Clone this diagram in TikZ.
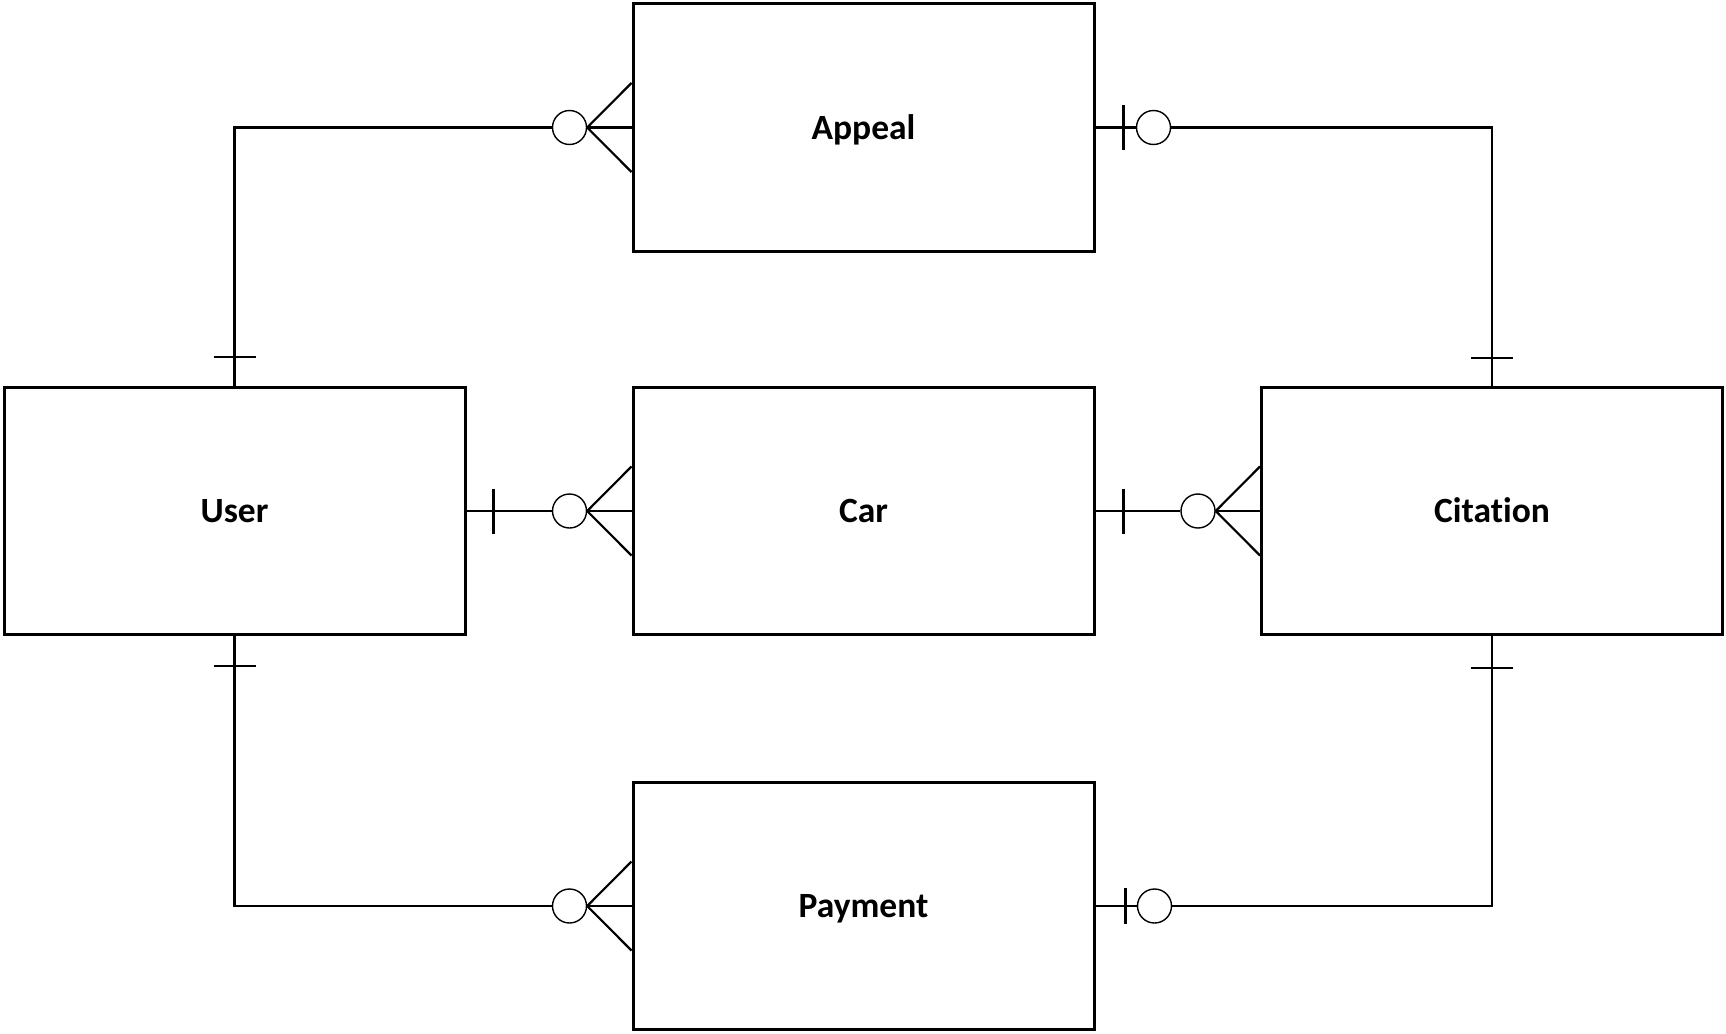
\documentclass[tikz,border=0pt]{standalone}
\usepackage{fontspec}
\setmainfont{Carlito}[Ligatures=NoCommon]
\usetikzlibrary{calc}

\begin{document}
\begin{tikzpicture}[x=1pt, y=-1pt,
    entity/.style={draw, line width=3pt, minimum width=461pt, minimum height=247pt,
        inner sep=0pt, text height=23pt, text depth=0pt,
        font=\fontsize{35.5}{42}\selectfont\bfseries},
    link/.style={line width=2.2pt},
    ring/.style={circle, draw, line width=1.4pt, minimum size=34pt, inner sep=0pt, fill=white}]
        \useasboundingbox (0,0) rectangle (1726,1033);

        % Entities
        \node[entity] (appeal)   at (863.5,127.5) {Appeal};
        \node[entity] (user)     at (234.5,511)   {User};
        \node[entity] (car)      at (863.5,511)   {Car};
        \node[entity] (citation) at (1492,511)    {Citation};
        \node[entity] (payment)  at (863.5,906)   {Payment};

        % Zero-or-many ends (ring and crow's foot on the west side)
        \foreach \ent/\rg in {appeal/ra, car/rc, citation/rt, payment/rp} {
            \node[ring] (\rg) at ($(\ent.west)+(-62,0)$) {};
            \draw[link] (\rg.east) -- (\ent.west);
            \draw[link] (\rg.east) -- ($(\ent.west)+(0,-44.5)$);
            \draw[link] (\rg.east) -- ($(\ent.west)+(0,44.5)$);
        }

        % Zero-or-one rings on the east side
        \node[ring] (ao) at ($(appeal.east)+(58,0)$) {};
        \node[ring] (po) at ($(payment.east)+(59,0)$) {};

        % Connectors
        \draw[link] (user.north) |- (ra.west);
        \draw[link] (appeal.east) -- (ao.west);
        \draw[link] (ao.east) -| (citation.north);
        \draw[link] (user.east) -- (rc.west);
        \draw[link] (car.east) -- (rt.west);
        \draw[link] (user.south) |- (rp.west);
        \draw[link] (payment.east) -- (po.west);
        \draw[link] (po.east) -| (citation.south);

        % One bars
        \draw[link] ($(user.north)+(-21,-29)$) -- ++(42,0);
        \draw[link] ($(citation.north)+(-21,-28)$) -- ++(42,0);
        \draw[link] ($(user.south)+(-21,30)$) -- ++(42,0);
        \draw[link] ($(citation.south)+(-21,32)$) -- ++(42,0);
        \draw[link] ($(user.east)+(27,-22.5)$) -- ++(0,45);
        \draw[link] ($(car.east)+(28,-22.5)$) -- ++(0,45);
        \draw[link] ($(appeal.east)+(28,-22.5)$) -- ++(0,45);
        \draw[link] ($(payment.east)+(30,-18)$) -- ++(0,36);
    \end{tikzpicture}
\end{document}
